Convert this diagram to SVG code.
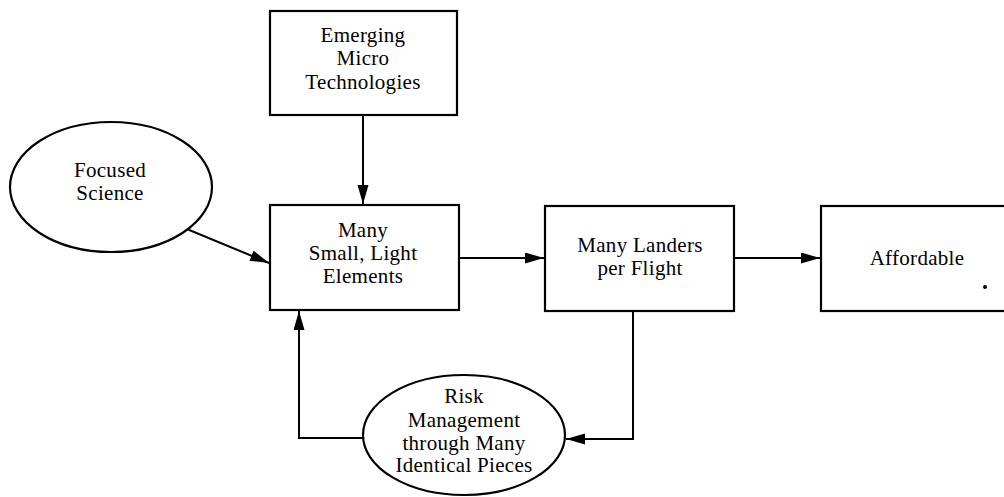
<svg xmlns="http://www.w3.org/2000/svg" width="1004" height="497" viewBox="0 0 1004 497">
<style>
.box{fill:#fff;stroke:#000;stroke-width:2.2}
.t{font-family:"Liberation Serif","DejaVu Serif",serif;font-size:21px;letter-spacing:0.3px;fill:#000;text-anchor:middle}
.c{fill:none;stroke:#000;stroke-width:2}
</style>
<defs>
<marker id="ah" markerUnits="userSpaceOnUse" markerWidth="20" markerHeight="12" refX="19" refY="5.5" orient="auto">
<path d="M0,0 L19,5.5 L0,11 Z" fill="#000"/>
</marker>
</defs>
<rect width="1004" height="497" fill="#fff"/>
<g id="connectors">
<line class="c" x1="363" y1="115" x2="363" y2="204" marker-end="url(#ah)"/>
<line class="c" x1="182" y1="227" x2="269" y2="263" marker-end="url(#ah)"/>
<line class="c" x1="459" y1="258" x2="544" y2="258" marker-end="url(#ah)"/>
<line class="c" x1="734" y1="258" x2="820" y2="258" marker-end="url(#ah)"/>
<polyline class="c" points="633,311 633,439 566,439" marker-end="url(#ah)"/>
<polyline class="c" points="363,438 299,438 299,311" marker-end="url(#ah)"/>
</g>
<g id="emerging">
<rect class="box" x="270" y="11" width="187" height="104"/>
<text class="t" x="363" y="42">Emerging</text>
<text class="t" x="363" y="65">Micro</text>
<text class="t" x="363" y="89">Technologies</text>
</g>
<g id="focused">
<ellipse class="box" cx="111" cy="187" rx="101" ry="65"/>
<text class="t" x="110" y="177">Focused</text>
<text class="t" x="110" y="200">Science</text>
</g>
<g id="many-small">
<rect class="box" x="270" y="205" width="189" height="105"/>
<text class="t" x="363" y="237">Many</text>
<text class="t" x="363" y="260">Small, Light</text>
<text class="t" x="363" y="283">Elements</text>
</g>
<g id="many-landers">
<rect class="box" x="545" y="206" width="189" height="105"/>
<text class="t" x="640" y="252">Many Landers</text>
<text class="t" x="640" y="275">per Flight</text>
</g>
<g id="affordable">
<rect class="box" x="821" y="206" width="200" height="105"/>
<text class="t" x="917" y="265">Affordable</text>
<circle cx="985" cy="287" r="2" fill="#000"/>
</g>
<g id="risk">
<ellipse class="box" cx="464" cy="435" rx="101" ry="60"/>
<text class="t" x="464" y="403">Risk</text>
<text class="t" x="464" y="427">Management</text>
<text class="t" x="464" y="450">through Many</text>
<text class="t" x="464" y="472">Identical Pieces</text>
</g>
</svg>
